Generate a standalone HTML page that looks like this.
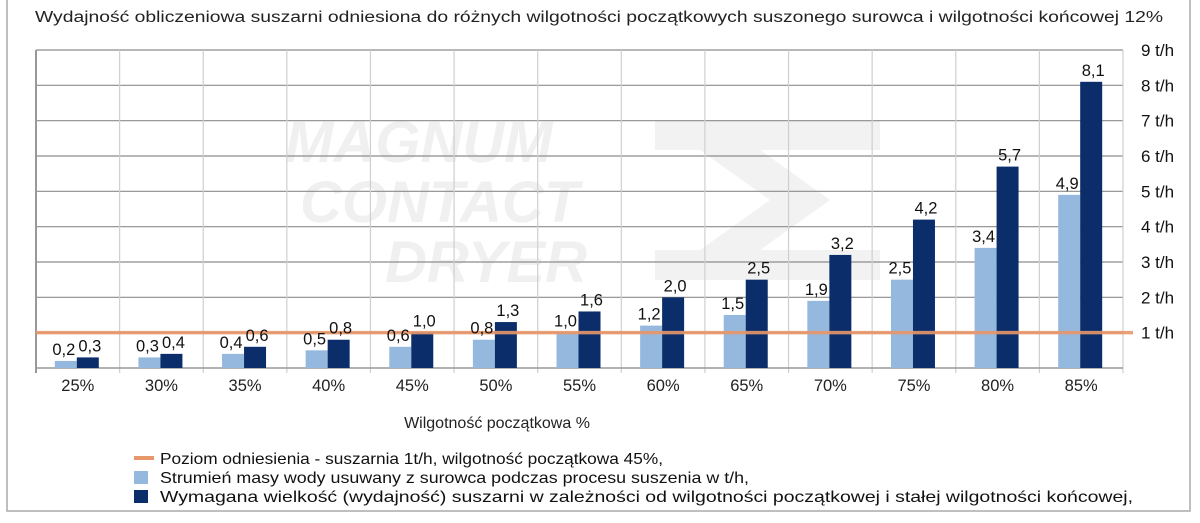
<!DOCTYPE html>
<html><head><meta charset="utf-8">
<style>
html,body{margin:0;padding:0;background:#fff;}
body{width:1200px;height:518px;overflow:hidden;font-family:"Liberation Sans",sans-serif;}
</style></head>
<body>
<svg id="chart" width="1200" height="518" xmlns="http://www.w3.org/2000/svg" font-family="Liberation Sans, sans-serif">
<rect x="7" y="-2" width="1183" height="513" fill="#fff" stroke="#aaa" stroke-width="1.5"/>
<text x="35" y="22" textLength="1128" lengthAdjust="spacingAndGlyphs" font-size="15.5" fill="#222">Wydajność obliczeniowa suszarni odniesiona do różnych wilgotności początkowych suszonego surowca i wilgotności końcowej 12%</text>
<g id="watermark" fill="#f0f0f0" font-weight="bold" font-size="58" font-style="italic">
<text x="285" y="162">MAGNUM</text>
<text x="300" y="222">CONTACT</text>
<text x="385" y="282">DRYER</text>
<path d="M655 120 H880 V150 H760 L830 200 L760 250 H880 V280 H655 V250 H700 L770 200 L700 150 H655 Z" fill="#f2f2f2"/>
</g>
<g id="grid"></g>
<g id="bars"></g>
<g id="refline"></g>
<g id="labels"></g>
<text x="497" y="428" text-anchor="middle" font-size="16" fill="#222">Wilgotność początkowa %</text>
<g font-size="16" fill="#111">
<rect x="134" y="456" width="20" height="4" fill="#e8976a"/>
<text x="160" y="464" textLength="503" lengthAdjust="spacingAndGlyphs">Poziom odniesienia - suszarnia 1t/h, wilgotność początkowa 45%,</text>
<rect x="134" y="471" width="14" height="13" fill="#95b8de"/>
<text x="160" y="483" textLength="589" lengthAdjust="spacingAndGlyphs">Strumień masy wody usuwany z surowca podczas procesu suszenia w t/h,</text>
<rect x="134" y="490" width="14" height="13" fill="#0b2e6b"/>
<text x="160" y="502" textLength="973" lengthAdjust="spacingAndGlyphs">Wymagana wielkość (wydajność) suszarni w zależności od wilgotności początkowej i stałej wilgotności końcowej,</text>
</g>
</svg>
<script>
const categories=["25%","30%","35%","40%","45%","50%","55%","60%","65%","70%","75%","80%","85%"];
const waterValues=[0.2,0.3,0.4,0.5,0.6,0.8,1.0,1.2,1.5,1.9,2.5,3.4,4.9];
const capacityValues=[0.3,0.4,0.6,0.8,1.0,1.3,1.6,2.0,2.5,3.2,4.2,5.7,8.1];
const yTicks=[1,2,3,4,5,6,7,8,9];
const referenceLevel=1;
const NS="http://www.w3.org/2000/svg";
const X0=36,X1=1123,Y0=368,Y1=50,YMAX=9;
const cw=(X1-X0)/categories.length;
const y=v=>Y0-(v/YMAX)*(Y0-Y1);
const xc=i=>X0+cw*(i+0.5);
function mk(tag,attrs,parent){const e=document.createElementNS(NS,tag);for(const k in attrs)e.setAttribute(k,attrs[k]);parent.appendChild(e);return e;}
const grid=document.getElementById('grid'),bars=document.getElementById('bars'),labels=document.getElementById('labels'),refg=document.getElementById('refline');
yTicks.forEach(t=>{
 const l=mk('line',{x1:X0,x2:X1,y1:y(t),y2:y(t),stroke:'#8c8c8c','stroke-width':1.2},grid);
 
 
 const tx=mk('text',{x:1141,y:y(t)+6,'font-size':17,fill:'#111'},grid);
 tx.textContent=t+' t/h';
 
 
});
for(let i=0;i<=categories.length;i++){
 const xx=X0+cw*i;
 const l=mk('line',{x1:xx,x2:xx,y1:Y1,y2:Y0+5,stroke:i==0?'#999':'#cfcfcf','stroke-width':i==0?2:1.2},grid);
 
 
}
const base=mk('line',{x1:X0,x2:X1,y1:Y0,y2:Y0,stroke:'#999','stroke-width':1.5},grid);


const fmt=v=>v.toFixed(1).replace('.',',');
categories.forEach((c,i)=>{
 const cx=xc(i);
 const a=mk('rect',{x:cx-23,y:y(waterValues[i]),width:22,height:Y0-y(waterValues[i]),fill:'#95b8de'},bars);
 
 
 const b=mk('rect',{x:cx-1,y:y(capacityValues[i]),width:22,height:Y0-y(capacityValues[i]),fill:'#0b2e6b'},bars);
 
 
 const t1=mk('text',{x:cx-14,y:y(waterValues[i])-6,'text-anchor':'middle','font-size':16.5,fill:'#111'},labels);
 t1.textContent=fmt(waterValues[i]);
 
 
 const t2=mk('text',{x:cx+12,y:y(capacityValues[i])-6,'text-anchor':'middle','font-size':16.5,fill:'#111'},labels);
 t2.textContent=fmt(capacityValues[i]);
 
 
 const xl=mk('text',{x:cx,y:391,'text-anchor':'middle','font-size':16.5,fill:'#222'},labels);
 xl.textContent=c;
 
 
});
const ref=mk('line',{x1:X0,x2:1133,y1:y(referenceLevel),y2:y(referenceLevel),stroke:'#e8976a','stroke-width':3.5,opacity:0.9},refg);


</script>
</body></html>
